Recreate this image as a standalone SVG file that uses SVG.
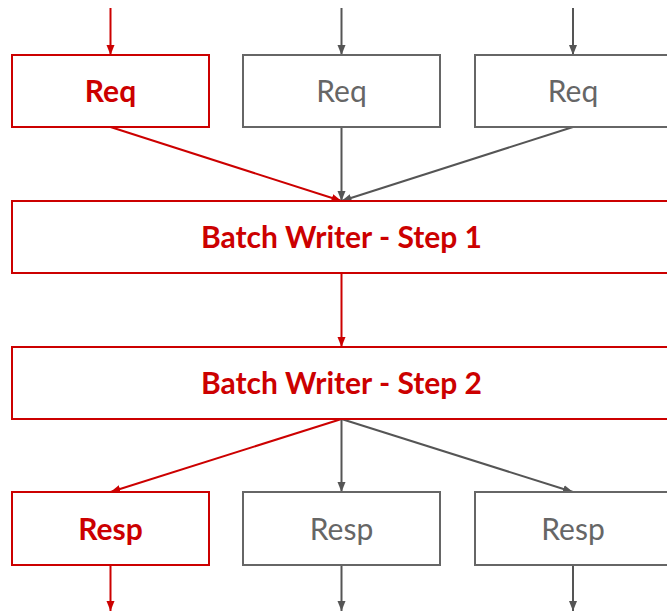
<svg xmlns="http://www.w3.org/2000/svg" width="667" height="614" viewBox="0 0 667 614">
<style>
.r{fill:#fff;stroke:#cc0000;stroke-width:2}
.g{fill:#fff;stroke:#666;stroke-width:2}
.tr{fill:#cc0000;font-family:Lato,"Open Sans",sans-serif;font-weight:bold;font-size:30px;text-anchor:middle}
.tg{fill:#666;font-family:Lato,"Open Sans",sans-serif;font-size:30px;text-anchor:middle}
.cr{stroke:#cc0000;stroke-width:2;fill:none;marker-end:url(#ar)}
.cg{stroke:#555;stroke-width:2;fill:none;marker-end:url(#ag)}
</style>
<defs>
<marker id="ar" viewBox="0 0 10 10" refX="10" refY="5" markerWidth="10" markerHeight="10" markerUnits="userSpaceOnUse" orient="auto"><path d="M0,1 L10,5 L0,9 z" fill="#cc0000"/></marker>
<marker id="ag" viewBox="0 0 10 10" refX="10" refY="5" markerWidth="10" markerHeight="10" markerUnits="userSpaceOnUse" orient="auto"><path d="M0,1 L10,5 L0,9 z" fill="#555"/></marker>
</defs>
<rect width="667" height="614" fill="#fff"/>
<g id="connectors">
<line class="cr" x1="110.5" y1="8" x2="110.5" y2="55"/>
<line class="cg" x1="341.5" y1="8" x2="341.5" y2="55"/>
<line class="cg" x1="573" y1="8" x2="573" y2="55"/>
<line class="cr" x1="110.5" y1="127" x2="341.5" y2="201"/>
<line class="cg" x1="341.5" y1="127" x2="341.5" y2="201"/>
<line class="cg" x1="573" y1="127" x2="341.5" y2="201"/>
<line class="cr" x1="341.5" y1="273" x2="341.5" y2="347"/>
<line class="cr" x1="341.5" y1="419" x2="110.5" y2="492"/>
<line class="cg" x1="341.5" y1="419" x2="341.5" y2="492"/>
<line class="cg" x1="341.5" y1="419" x2="573" y2="492"/>
<line class="cr" x1="110.5" y1="565" x2="110.5" y2="611"/>
<line class="cg" x1="341.5" y1="565" x2="341.5" y2="611"/>
<line class="cg" x1="573" y1="565" x2="573" y2="611"/>
</g>
<g id="req1"><rect class="r" x="12" y="55" width="197" height="72"/><text class="tr" x="110.5" y="102">Req</text></g>
<g id="req2"><rect class="g" x="243" y="55" width="197" height="72"/><text class="tg" x="341.5" y="102">Req</text></g>
<g id="req3"><rect class="g" x="475" y="55" width="197" height="72"/><text class="tg" x="573" y="102">Req</text></g>
<g id="batch1"><rect class="r" x="12" y="201" width="660" height="72"/><text class="tr" x="341.5" y="248">Batch Writer - Step 1</text></g>
<g id="batch2"><rect class="r" x="12" y="347" width="660" height="72"/><text class="tr" x="341.5" y="394">Batch Writer - Step 2</text></g>
<g id="resp1"><rect class="r" x="12" y="492" width="197" height="73"/><text class="tr" x="110.5" y="540">Resp</text></g>
<g id="resp2"><rect class="g" x="243" y="492" width="197" height="73"/><text class="tg" x="341.5" y="540">Resp</text></g>
<g id="resp3"><rect class="g" x="475" y="492" width="197" height="73"/><text class="tg" x="573" y="540">Resp</text></g>
</svg>
